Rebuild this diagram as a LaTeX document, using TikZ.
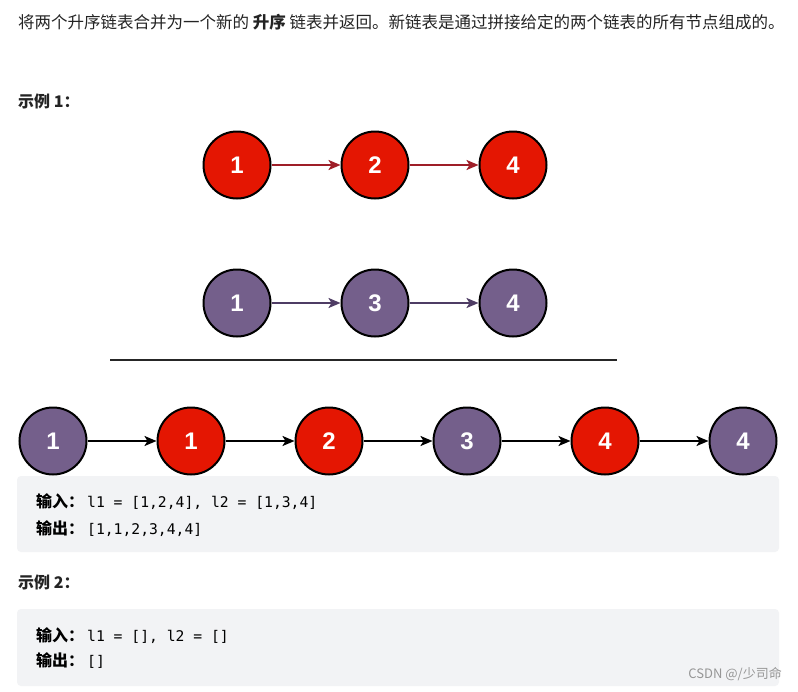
\documentclass[tikz,border=0pt]{standalone}
\usepackage{fontspec}
\setmainfont{Liberation Sans}
\newfontfamily\cjk{Noto Sans CJK SC}
\newfontfamily\numfont{Liberation Sans}
\setmonofont{DejaVu Sans Mono}
\usetikzlibrary{arrows.meta}
\definecolor{nred}{RGB}{228,22,2}
\definecolor{npurple}{RGB}{116,95,139}
\definecolor{ared}{RGB}{158,30,40}
\definecolor{apurple}{RGB}{78,60,100}
\definecolor{boxgray}{RGB}{242,243,245}
\definecolor{txt}{RGB}{36,36,36}
\definecolor{wm}{RGB}{150,150,150}
\newcommand\lbl[1]{\makebox[51pt][l]{\cjk\bfseries\fontsize{16}{16}\selectfont #1}}
\begin{document}
\begin{tikzpicture}[x=1pt,y=-1pt,
  ball/.style={circle,draw=black,line width=2pt,minimum size=67pt,inner sep=0pt,
    text=white,font=\numfont\fontsize{24}{24}\selectfont\bfseries},
  redball/.style={ball,fill=nred},
  purpleball/.style={ball,fill=npurple},
  link/.style={line width=2pt,-{Stealth[length=12pt,width=10pt,inset=3pt]}},
  codebox/.style={fill=boxgray,rounded corners=4pt,draw=none},
  plain/.style={anchor=base west,inner sep=0pt,text=txt,font=\cjk\fontsize{16.5}{16.5}\selectfont},
  code/.style={anchor=base west,inner sep=0pt,text=black,font=\fontsize{14.7}{14.7}\selectfont}
]
\useasboundingbox (0,0) rectangle (798,691);
\fill[white] (0,0) rectangle (798,691);

% text
\node[plain] (intro) at (18,28) {将两个升序链表合并为一个新的 \textbf{升序} 链表并返回。新链表是通过拼接给定的两个链表的所有节点组成的。};
\node[plain,font=\cjk\bfseries\fontsize{16}{16}\selectfont] (ex1) at (18,107) {示例 1：};
\node[plain,font=\cjk\bfseries\fontsize{16}{16}\selectfont] (ex2) at (18,588) {示例 2：};

% code boxes
\path[codebox] (17,476) rectangle (779,552);
\path[codebox] (17,609) rectangle (779,686);

\node[code] (in1) at (36,507) {\lbl{输入：}\ttfamily l1 = [1,2,4], l2 = [1,3,4]};
\node[code] (out1) at (36,534) {\lbl{输出：}\ttfamily [1,1,2,3,4,4]};
\node[code] (in2) at (36,641) {\lbl{输入：}\ttfamily l1 = [], l2 = []};
\node[code] (out2) at (36,666) {\lbl{输出：}\ttfamily []};

\node[anchor=base east,inner sep=0pt,text=wm,font=\cjk\fontsize{13}{13}\selectfont] (wmk) at (782,678) {CSDN @/少司命};

% list 1
\node[redball] (a1) at (237,165) {1};
\node[redball] (a2) at (375,165) {2};
\node[redball] (a3) at (513,165) {4};
\draw[link,ared] (a1) -- (a2);
\draw[link,ared] (a2) -- (a3);

% list 2
\node[purpleball] (b1) at (237,303) {1};
\node[purpleball] (b2) at (375,303) {3};
\node[purpleball] (b3) at (513,303) {4};
\draw[link,apurple] (b1) -- (b2);
\draw[link,apurple] (b2) -- (b3);

% divider
\coordinate (l0) at (110,360);
\coordinate (l1) at (617,360);
\draw[line width=2pt,black!85] (l0) -- (l1);

% merged
\node[purpleball] (c1) at (53,441) {1};
\node[redball] (c2) at (191,441) {1};
\node[redball] (c3) at (329,441) {2};
\node[purpleball] (c4) at (467,441) {3};
\node[redball] (c5) at (605,441) {4};
\node[purpleball] (c6) at (743,441) {4};
\foreach \p/\q in {c1/c2,c2/c3,c3/c4,c4/c5,c5/c6}
  \draw[link,black] (\p) -- (\q);
\end{tikzpicture}
\end{document}
